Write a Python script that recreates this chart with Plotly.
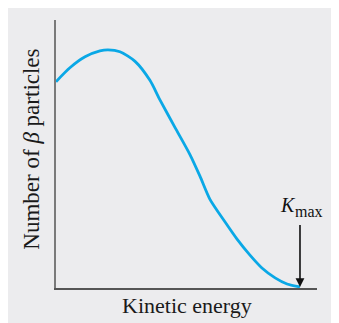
import plotly.graph_objects as go

# Beta-decay energy spectrum (normalized: K / K_max, relative count)
energy = [0.0, 0.057, 0.119, 0.18, 0.213, 0.262, 0.324, 0.385, 0.426, 0.488,
          0.549, 0.59, 0.631, 0.693, 0.742, 0.795, 0.844, 0.898, 0.947, 1.0]
count = [0.769, 0.821, 0.862, 0.884, 0.888, 0.881, 0.845, 0.774, 0.701, 0.597,
         0.496, 0.415, 0.328, 0.243, 0.179, 0.119, 0.071, 0.034, 0.011, 0.0]
k_max = 1.0
x_label = "Kinetic energy"
y_label = "Number of <i>β</i> particles"
k_main = "<i>K</i>"
k_sub = "max"

FONT = "Liberation Serif"
BG = "#ECECEE"

fig = go.Figure()
fig.add_trace(go.Scatter(
    x=energy, y=count, mode="lines",
    line=dict(color="#0AA8E6", width=2.8, shape="spline", smoothing=0.7),
    hoverinfo="skip", showlegend=False,
))

# arrow pointing to K_max
fig.add_annotation(x=k_max, y=0, xref="x", yref="y", ax=0, ay=-65,
                   text=" ", font=dict(size=2), showarrow=True, arrowhead=2,
                   arrowsize=1.1, arrowwidth=1.6, arrowcolor="#111111",
                   standoff=0)
fig.add_annotation(x=k_max, y=0.3075, xref="x", yref="y", text=k_main,
                   showarrow=False, xanchor="right", yanchor="middle",
                   xshift=-2,
                   font=dict(family=FONT, size=20, color="#111111"))
fig.add_annotation(x=k_max, y=0.2836, xref="x", yref="y", text=k_sub,
                   showarrow=False, xanchor="left", yanchor="middle",
                   xshift=-7,
                   font=dict(family=FONT, size=16, color="#111111"))

# axis titles
fig.add_annotation(x=0.502, y=-0.067, xref="paper", yref="paper",
                   text=x_label, showarrow=False, xanchor="center",
                   yanchor="middle",
                   font=dict(family=FONT, size=22, color="#1a1a1a"))
fig.add_annotation(x=-0.092, y=0.52, xref="paper", yref="paper",
                   text=y_label, showarrow=False, textangle=-90,
                   xanchor="center", yanchor="middle",
                   font=dict(family=FONT, size=23, color="#1a1a1a"))

fig.update_xaxes(range=[0, 1.0697], showgrid=False, zeroline=False,
                 showticklabels=False, ticks="", showline=True,
                 linecolor="#555555", linewidth=1.6)
fig.update_yaxes(range=[-0.004, 1.0], showgrid=False, zeroline=False,
                 showticklabels=False, ticks="", showline=True,
                 linecolor="#7A7A7A", linewidth=2)

fig.update_layout(
    width=331, height=315,
    margin=dict(l=48, r=22, t=12, b=35),
    paper_bgcolor=BG, plot_bgcolor=BG,
)

fig.write_html("out.html")
